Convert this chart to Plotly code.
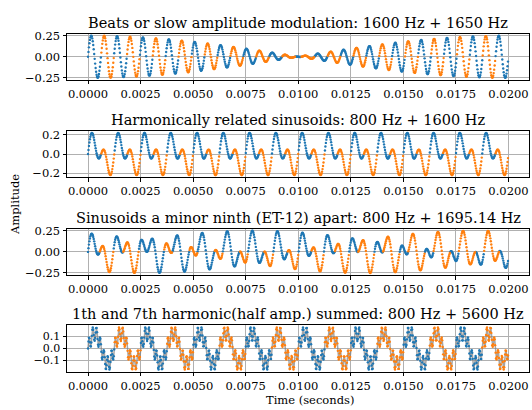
import numpy as np
import plotly.graph_objects as go

# ---- data (signal definitions read from the titles / picture) ----
sample_rate = 44100
duration = 0.02
titles = [
    "Beats or slow amplitude modulation: 1600 Hz + 1650 Hz",
    "Harmonically related sinusoids: 800 Hz + 1600 Hz",
    "Sinusoids a minor ninth (ET-12) apart: 800 Hz + 1695.14 Hz",
    "1th and 7th harmonic(half amp.) summed: 800 Hz + 5600 Hz",
]
freq_a = [1600, 800, 800, 800]
freq_b = [1650, 1600, 1695.14, 5600]
amp_a = [0.125, 0.125, 0.125, 0.125]
amp_b = [0.125, 0.125, 0.125, 0.0625]
y_tickvals = [[-0.25, 0.0, 0.25], [-0.2, 0.0, 0.2], [-0.25, 0.0, 0.25], [-0.1, 0.0, 0.1]]
y_fmt = [".2f", ".1f", ".2f", ".1f"]
x_tickvals = [0.0, 0.0025, 0.005, 0.0075, 0.01, 0.0125, 0.015, 0.0175, 0.02]
gray_line = [False, False, False, True]

BLUE = "#1f77b4"
ORANGE = "#ff7f0e"
FONT = "DejaVu Serif"

W, H = 532, 410
x0_px, x1_px = 67, 529
tops = [29.3, 129.0, 229.3, 328.3]
ax_h = 47.5
ytick_size = [11.5, 11.5, 11.5, 11]

t = np.arange(int(sample_rate * duration)) / sample_rate

fig = go.Figure()
layout = {}
annotations = []
for i in range(4):
    y = amp_a[i] * np.sin(2 * np.pi * freq_a[i] * t) + amp_b[i] * np.sin(2 * np.pi * freq_b[i] * t)
    # toggle colour at each upward zero crossing
    up = np.zeros(len(y), dtype=int)
    up[1:] = ((y[:-1] < 0) & (y[1:] >= 0)).astype(int)
    seg = np.cumsum(up) % 2
    xa = "x" if i == 0 else f"x{i+1}"
    ya = "y" if i == 0 else f"y{i+1}"
    if gray_line[i]:
        fig.add_trace(go.Scatter(x=t, y=y, mode="lines", xaxis=xa, yaxis=ya,
                                 line=dict(color="rgba(128,128,128,0.7)", width=1.5),
                                 showlegend=False, hoverinfo="skip"))
    for k, col in enumerate([BLUE, ORANGE]):
        m = seg == k
        fig.add_trace(go.Scatter(x=t[m], y=y[m], mode="markers", xaxis=xa, yaxis=ya,
                                 marker=dict(color=col, size=2.4, line=dict(width=0)),
                                 showlegend=False))
    ymin, ymax = float(y.min()), float(y.max())
    span = ymax - ymin
    xspan = t[-1] - t[0]
    top = 1 - tops[i] / H
    bot = 1 - (tops[i] + ax_h) / H
    common = dict(showline=True, mirror=True, linecolor="black", linewidth=1,
                  showgrid=True, gridcolor="#b0b0b0", gridwidth=0.8,
                  zeroline=False, ticks="outside", ticklen=3.5, tickwidth=1,
                  tickcolor="black")
    layout["xaxis" if i == 0 else f"xaxis{i+1}"] = dict(
        domain=[x0_px / W, x1_px / W], anchor=ya,
        range=[t[0] - 0.05 * xspan, t[-1] + 0.05 * xspan],
        tickvals=x_tickvals, tickformat=".4f",
        tickfont=dict(family=FONT, size=11.5, color="black"), **common)
    layout["yaxis" if i == 0 else f"yaxis{i+1}"] = dict(
        domain=[bot, top], anchor=xa,
        range=[ymin - 0.05 * span, ymax + 0.05 * span],
        tickvals=y_tickvals[i], tickformat=y_fmt[i],
        tickfont=dict(family=FONT, size=ytick_size[i], color="black"), **common)
    annotations.append(dict(text=titles[i], x=(x0_px + x1_px) / 2 / W, y=top,
                            xref="paper", yref="paper", xanchor="center", yanchor="bottom",
                            yshift=1, showarrow=False,
                            font=dict(family=FONT, size=14.5, color="black")))

annotations.append(dict(text="Time (seconds)", x=310 / W, y=1 - 405 / H, xref="paper", yref="paper",
                        xanchor="center", yanchor="middle", showarrow=False,
                        font=dict(family=FONT, size=11.5, color="black")))
annotations.append(dict(text="Amplitude", x=15 / W, y=205 / H, xref="paper", yref="paper",
                        xanchor="center", yanchor="middle", textangle=-90, showarrow=False,
                        font=dict(family=FONT, size=11.5, color="black")))

fig.update_layout(width=W, height=H, margin=dict(l=0, r=0, t=0, b=0),
                  plot_bgcolor="white", paper_bgcolor="white",
                  annotations=annotations, **layout)
fig.write_html("out.html")
